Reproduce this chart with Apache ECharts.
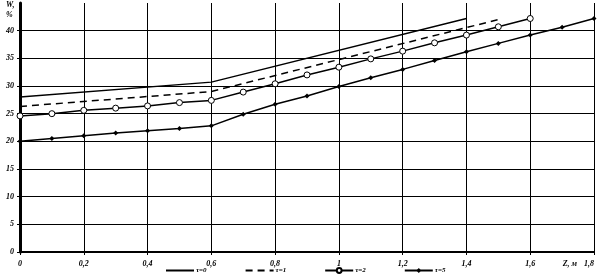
<!DOCTYPE html>
<html><head><meta charset="utf-8">
<script src="https://cdn.jsdelivr.net/npm/echarts@6/dist/echarts.min.js"></script>
<style>html,body{margin:0;padding:0;background:#fff}#c{width:599px;height:275px}</style>
</head><body><div id="c"></div>
<script>
const seriesNames = ['τ=0', 'τ=1', 'τ=2', 'τ=5'];
const tau0 = [[0, 28.0], [0.6, 30.7], [1.4, 42.2]];
const tau1 = [[0, 26.3], [0.6, 29.0], [1.5, 42.0]];
const tau2X = [0, 0.1, 0.2, 0.3, 0.4, 0.5, 0.6, 0.7, 0.8, 0.9, 1.0, 1.1, 1.2, 1.3, 1.4, 1.5, 1.6];
const tau2Y = [24.6, 25.0, 25.6, 26.0, 26.4, 27.0, 27.4, 28.9, 30.4, 32.0, 33.4, 34.9, 36.3, 37.8, 39.2, 40.7, 42.2];
const tau5X = [0, 0.1, 0.2, 0.3, 0.4, 0.5, 0.6, 0.7, 0.8, 0.9, 1.0, 1.1, 1.2, 1.3, 1.4, 1.5, 1.6, 1.7, 1.8];
const tau5Y = [20.0, 20.5, 21.0, 21.5, 21.9, 22.3, 22.8, 24.9, 26.7, 28.2, 29.9, 31.5, 33.0, 34.6, 36.2, 37.7, 39.2, 40.6, 42.2];
const xTicks = { min: 0, max: 1.8, interval: 0.2 };
const yTicks = { min: 0, max: 45, interval: 5 };
const xName = 'Z, м';
const yName = 'W,\n%';

const font = { fontFamily: 'Liberation Serif', fontStyle: 'italic', fontWeight: 'bold', fontSize: 8, color: '#000' };
const zip = (xs, ys) => xs.map((x, i) => [x, ys[i]]);

const chart = echarts.init(document.getElementById('c'), null, { renderer: 'canvas' });
chart.setOption({
  animation: false,
  backgroundColor: '#fff',
  grid: { left: 20, right: 5, top: 3, bottom: 23, containLabel: false },
  xAxis: {
    type: 'value', min: xTicks.min, max: xTicks.max, interval: xTicks.interval,
    name: xName, nameLocation: 'end', nameGap: -17,
    nameTextStyle: Object.assign({}, font, { align: 'right', verticalAlign: 'top', padding: [8, 0, 0, 0] }),
    axisLine: { lineStyle: { color: '#000', width: 2 } },
    axisTick: { show: true, length: 3, lineStyle: { color: '#000', width: 1 } },
    splitLine: { show: true, lineStyle: { color: '#000', width: 1 } },
    axisLabel: Object.assign({}, font, { margin: 8, alignMaxLabel: 'right',
      formatter: v => (Math.round(v * 10) / 10).toString().replace('.', ',') })
  },
  yAxis: {
    type: 'value', min: yTicks.min, max: yTicks.max, interval: yTicks.interval,
    axisLine: { show: true, lineStyle: { color: '#000', width: 3 } },
    axisTick: { show: true, length: 3, lineStyle: { color: '#000', width: 1 } },
    splitLine: { show: true, showMaxLine: false, lineStyle: { color: '#000', width: 1 } },
    axisLabel: Object.assign({}, font, { margin: 6, showMaxLabel: false })
  },
  graphic: [{
    type: 'text', left: 6, top: 0,
    style: { text: yName, font: 'italic bold 8px "Liberation Serif"', fill: '#000', lineHeight: 10 }
  }],
  legend: {
    left: 160, top: 262, itemWidth: 28, itemHeight: 6, itemGap: 38,
    textStyle: Object.assign({}, font, { fontSize: 7, padding: [0, 0, 0, -3] }),
    data: [
      { name: seriesNames[0], itemStyle: { opacity: 0 } },
      { name: seriesNames[1], itemStyle: { opacity: 0 } },
      { name: seriesNames[2] },
      { name: seriesNames[3] }
    ]
  },
  series: [
    { name: seriesNames[0], type: 'line', data: tau0, symbol: 'none',
      lineStyle: { color: '#000', width: 1.5 }, itemStyle: { color: '#000' } },
    { name: seriesNames[1], type: 'line', data: tau1, symbol: 'none',
      lineStyle: { color: '#000', width: 1.5, type: [7, 5] }, itemStyle: { color: '#000' } },
    { name: seriesNames[2], type: 'line', data: zip(tau2X, tau2Y), symbol: 'circle', symbolSize: 6,
      lineStyle: { color: '#000', width: 1.5 }, itemStyle: { color: '#fff', borderColor: '#000', borderWidth: 1 } },
    { name: seriesNames[3], type: 'line', data: zip(tau5X, tau5Y), symbol: 'diamond', symbolSize: 5,
      lineStyle: { color: '#000', width: 1.5 }, itemStyle: { color: '#000' } }
  ]
});
</script></body></html>
